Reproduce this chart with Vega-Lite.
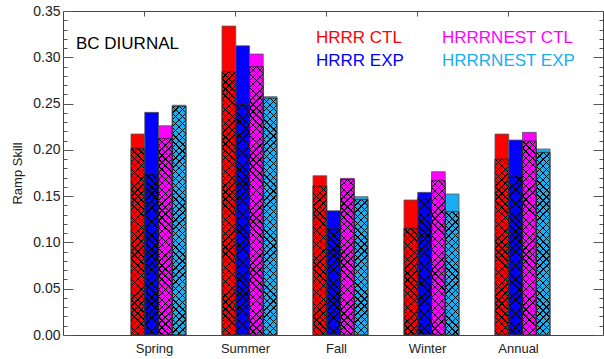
{
"$schema": "https://vega.github.io/schema/vega-lite/v6.json",
"width": 540, "height": 324,
"autosize": {"type": "none"},
"padding": {"left": 63, "top": 11, "right": 1, "bottom": 24},
"background": "white",
"config": {"view": {"stroke": "#444", "strokeWidth": 1}, "font": "Liberation Sans"},
"title": {"text": "BC DIURNAL", "anchor": "start", "frame": "group", "orient": "top", "dx": 13, "offset": -57, "baseline": "middle", "fontSize": 17, "fontWeight": "normal", "color": "#000", "font": "Liberation Sans"},
"data": {"values": [
{"season":"Spring","model":"HRRR CTL","total":0.2171,"hatch":0.2016},
{"season":"Spring","model":"HRRR EXP","total":0.2405,"hatch":0.1746},
{"season":"Spring","model":"HRRRNEST CTL","total":0.226,"hatch":0.2124},
{"season":"Spring","model":"HRRRNEST EXP","total":0.2482,"hatch":0.247},
{"season":"Summer","model":"HRRR CTL","total":0.3337,"hatch":0.2844},
{"season":"Summer","model":"HRRR EXP","total":0.3124,"hatch":0.2491},
{"season":"Summer","model":"HRRRNEST CTL","total":0.3035,"hatch":0.2898},
{"season":"Summer","model":"HRRRNEST EXP","total":0.2574,"hatch":0.2558},
{"season":"Fall","model":"HRRR CTL","total":0.172,"hatch":0.161},
{"season":"Fall","model":"HRRR EXP","total":0.1342,"hatch":0.1152},
{"season":"Fall","model":"HRRRNEST CTL","total":0.1692,"hatch":0.168},
{"season":"Fall","model":"HRRRNEST EXP","total":0.1494,"hatch":0.1465},
{"season":"Winter","model":"HRRR CTL","total":0.1458,"hatch":0.1152},
{"season":"Winter","model":"HRRR EXP","total":0.1541,"hatch":0.1483},
{"season":"Winter","model":"HRRRNEST CTL","total":0.1764,"hatch":0.1667},
{"season":"Winter","model":"HRRRNEST EXP","total":0.1523,"hatch":0.1332},
{"season":"Annual","model":"HRRR CTL","total":0.217,"hatch":0.19},
{"season":"Annual","model":"HRRR EXP","total":0.2106,"hatch":0.1717},
{"season":"Annual","model":"HRRRNEST CTL","total":0.2189,"hatch":0.2095},
{"season":"Annual","model":"HRRRNEST EXP","total":0.2009,"hatch":0.1973}
]},
"layer": [
{
"mark": {"type": "bar"},
"encoding": {
"x": {"field": "season", "type": "nominal", "scale": {"domain": ["Spring","Summer","Fall","Winter","Annual"], "paddingInner": 0.395604, "paddingOuter": 0.664835, "align": 0.562, "round": false},
 "axis": {"orient": "bottom", "ticks": false, "domain": false, "grid": false, "labelPadding": 7, "labelFontSize": 13, "labelColor": "#222", "labelOffset": -4, "labelAngle": 0, "title": null}},
"xOffset": {"field": "model", "type": "nominal", "scale": {"domain": ["HRRR CTL","HRRR EXP","HRRRNEST CTL","HRRRNEST EXP"], "paddingInner": 0, "paddingOuter": 0, "round": false}},
"y": {"field": "total", "type": "quantitative", "scale": {"domain": [0, 0.35], "nice": false, "zero": true},
 "axis": {"orient": "left", "values": [0,0.05,0.1,0.15,0.2,0.25,0.3,0.35], "format": ".2f", "ticks": false, "domain": false, "grid": false, "labelPadding": 3, "labelFontSize": 14, "labelColor": "#222", "title": "Ramp Skill", "titleFontSize": 13, "titleFontWeight": "normal", "titleColor": "#222", "titlePadding": 8}},
"color": {"field": "model", "type": "nominal", "scale": {"domain": ["HRRR CTL","HRRR EXP","HRRRNEST CTL","HRRRNEST EXP"], "range": ["#FF0000","#0000FF","#FF00FF","#1AADEF"]},
 "legend": {"orient": "none", "legendX": 236, "legendY": 18, "columns": 2, "columnPadding": 21, "rowPadding": 5, "symbolSize": 0, "symbolStrokeWidth": 0, "symbolOpacity": 0, "labelOffset": 0, "labelFontSize": 17, "labelFont": "Liberation Sans", "title": null, "encode": {"labels": {"update": {"fill": {"scale": "color", "field": "value"}}}}}}
}
},
{
"mark": {"type": "bar", "clip": true, "y2Offset": 324, "fill": {"gradient": "linear", "x1": 0, "y1": 0, "x2": 0.042438, "y2": 1, "stops": [
{"offset":0.01918,"color":"#0000"},{"offset":0.01918,"color":"#000"},{"offset":0.02318,"color":"#000"},{"offset":0.02318,"color":"#0000"},
{"offset":0.04036,"color":"#0000"},{"offset":0.04036,"color":"#000"},{"offset":0.04436,"color":"#000"},{"offset":0.04436,"color":"#0000"},
{"offset":0.06154,"color":"#0000"},{"offset":0.06154,"color":"#000"},{"offset":0.06554,"color":"#000"},{"offset":0.06554,"color":"#0000"},
{"offset":0.08272,"color":"#0000"},{"offset":0.08272,"color":"#000"},{"offset":0.08672,"color":"#000"},{"offset":0.08672,"color":"#0000"},
{"offset":0.10391,"color":"#0000"},{"offset":0.10391,"color":"#000"},{"offset":0.10791,"color":"#000"},{"offset":0.10791,"color":"#0000"},
{"offset":0.12509,"color":"#0000"},{"offset":0.12509,"color":"#000"},{"offset":0.12909,"color":"#000"},{"offset":0.12909,"color":"#0000"},
{"offset":0.14627,"color":"#0000"},{"offset":0.14627,"color":"#000"},{"offset":0.15027,"color":"#000"},{"offset":0.15027,"color":"#0000"},
{"offset":0.16745,"color":"#0000"},{"offset":0.16745,"color":"#000"},{"offset":0.17145,"color":"#000"},{"offset":0.17145,"color":"#0000"},
{"offset":0.18863,"color":"#0000"},{"offset":0.18863,"color":"#000"},{"offset":0.19263,"color":"#000"},{"offset":0.19263,"color":"#0000"},
{"offset":0.20981,"color":"#0000"},{"offset":0.20981,"color":"#000"},{"offset":0.21381,"color":"#000"},{"offset":0.21381,"color":"#0000"},
{"offset":0.23099,"color":"#0000"},{"offset":0.23099,"color":"#000"},{"offset":0.23499,"color":"#000"},{"offset":0.23499,"color":"#0000"},
{"offset":0.25217,"color":"#0000"},{"offset":0.25217,"color":"#000"},{"offset":0.25617,"color":"#000"},{"offset":0.25617,"color":"#0000"},
{"offset":0.27336,"color":"#0000"},{"offset":0.27336,"color":"#000"},{"offset":0.27736,"color":"#000"},{"offset":0.27736,"color":"#0000"},
{"offset":0.29454,"color":"#0000"},{"offset":0.29454,"color":"#000"},{"offset":0.29854,"color":"#000"},{"offset":0.29854,"color":"#0000"},
{"offset":0.31572,"color":"#0000"},{"offset":0.31572,"color":"#000"},{"offset":0.31972,"color":"#000"},{"offset":0.31972,"color":"#0000"},
{"offset":0.33690,"color":"#0000"},{"offset":0.33690,"color":"#000"},{"offset":0.34090,"color":"#000"},{"offset":0.34090,"color":"#0000"},
{"offset":0.35808,"color":"#0000"},{"offset":0.35808,"color":"#000"},{"offset":0.36208,"color":"#000"},{"offset":0.36208,"color":"#0000"},
{"offset":0.37926,"color":"#0000"},{"offset":0.37926,"color":"#000"},{"offset":0.38326,"color":"#000"},{"offset":0.38326,"color":"#0000"},
{"offset":0.40044,"color":"#0000"},{"offset":0.40044,"color":"#000"},{"offset":0.40444,"color":"#000"},{"offset":0.40444,"color":"#0000"},
{"offset":0.42162,"color":"#0000"},{"offset":0.42162,"color":"#000"},{"offset":0.42562,"color":"#000"},{"offset":0.42562,"color":"#0000"},
{"offset":0.44281,"color":"#0000"},{"offset":0.44281,"color":"#000"},{"offset":0.44681,"color":"#000"},{"offset":0.44681,"color":"#0000"},
{"offset":0.46399,"color":"#0000"},{"offset":0.46399,"color":"#000"},{"offset":0.46799,"color":"#000"},{"offset":0.46799,"color":"#0000"},
{"offset":0.48517,"color":"#0000"},{"offset":0.48517,"color":"#000"},{"offset":0.48917,"color":"#000"},{"offset":0.48917,"color":"#0000"},
{"offset":0.50635,"color":"#0000"},{"offset":0.50635,"color":"#000"},{"offset":0.51035,"color":"#000"},{"offset":0.51035,"color":"#0000"},
{"offset":0.52753,"color":"#0000"},{"offset":0.52753,"color":"#000"},{"offset":0.53153,"color":"#000"},{"offset":0.53153,"color":"#0000"},
{"offset":0.54871,"color":"#0000"},{"offset":0.54871,"color":"#000"},{"offset":0.55271,"color":"#000"},{"offset":0.55271,"color":"#0000"},
{"offset":0.56989,"color":"#0000"},{"offset":0.56989,"color":"#000"},{"offset":0.57389,"color":"#000"},{"offset":0.57389,"color":"#0000"},
{"offset":0.59107,"color":"#0000"},{"offset":0.59107,"color":"#000"},{"offset":0.59507,"color":"#000"},{"offset":0.59507,"color":"#0000"},
{"offset":0.61225,"color":"#0000"},{"offset":0.61225,"color":"#000"},{"offset":0.61625,"color":"#000"},{"offset":0.61625,"color":"#0000"},
{"offset":0.63344,"color":"#0000"},{"offset":0.63344,"color":"#000"},{"offset":0.63744,"color":"#000"},{"offset":0.63744,"color":"#0000"},
{"offset":0.65462,"color":"#0000"},{"offset":0.65462,"color":"#000"},{"offset":0.65862,"color":"#000"},{"offset":0.65862,"color":"#0000"},
{"offset":0.67580,"color":"#0000"},{"offset":0.67580,"color":"#000"},{"offset":0.67980,"color":"#000"},{"offset":0.67980,"color":"#0000"},
{"offset":0.69698,"color":"#0000"},{"offset":0.69698,"color":"#000"},{"offset":0.70098,"color":"#000"},{"offset":0.70098,"color":"#0000"},
{"offset":0.71816,"color":"#0000"},{"offset":0.71816,"color":"#000"},{"offset":0.72216,"color":"#000"},{"offset":0.72216,"color":"#0000"},
{"offset":0.73934,"color":"#0000"},{"offset":0.73934,"color":"#000"},{"offset":0.74334,"color":"#000"},{"offset":0.74334,"color":"#0000"},
{"offset":0.76052,"color":"#0000"},{"offset":0.76052,"color":"#000"},{"offset":0.76452,"color":"#000"},{"offset":0.76452,"color":"#0000"},
{"offset":0.78170,"color":"#0000"},{"offset":0.78170,"color":"#000"},{"offset":0.78570,"color":"#000"},{"offset":0.78570,"color":"#0000"},
{"offset":0.80289,"color":"#0000"},{"offset":0.80289,"color":"#000"},{"offset":0.80689,"color":"#000"},{"offset":0.80689,"color":"#0000"},
{"offset":0.82407,"color":"#0000"},{"offset":0.82407,"color":"#000"},{"offset":0.82807,"color":"#000"},{"offset":0.82807,"color":"#0000"},
{"offset":0.84525,"color":"#0000"},{"offset":0.84525,"color":"#000"},{"offset":0.84925,"color":"#000"},{"offset":0.84925,"color":"#0000"},
{"offset":0.86643,"color":"#0000"},{"offset":0.86643,"color":"#000"},{"offset":0.87043,"color":"#000"},{"offset":0.87043,"color":"#0000"},
{"offset":0.88761,"color":"#0000"},{"offset":0.88761,"color":"#000"},{"offset":0.89161,"color":"#000"},{"offset":0.89161,"color":"#0000"},
{"offset":0.90879,"color":"#0000"},{"offset":0.90879,"color":"#000"},{"offset":0.91279,"color":"#000"},{"offset":0.91279,"color":"#0000"},
{"offset":0.92997,"color":"#0000"},{"offset":0.92997,"color":"#000"},{"offset":0.93397,"color":"#000"},{"offset":0.93397,"color":"#0000"},
{"offset":0.95115,"color":"#0000"},{"offset":0.95115,"color":"#000"},{"offset":0.95515,"color":"#000"},{"offset":0.95515,"color":"#0000"},
{"offset":0.97234,"color":"#0000"},{"offset":0.97234,"color":"#000"},{"offset":0.97634,"color":"#000"},{"offset":0.97634,"color":"#0000"},
{"offset":0.99352,"color":"#0000"},{"offset":0.99352,"color":"#000"},{"offset":0.99752,"color":"#000"},{"offset":0.99752,"color":"#0000"}
]}},
"encoding": {
"x": {"field": "season", "type": "nominal", "axis": {"orient": "top", "labels": false, "domain": false, "grid": false, "ticks": true, "tickSize": -5, "tickOffset": -15, "tickColor": "#555", "title": null}},
"xOffset": {"field": "model", "type": "nominal"},
"y": {"field": "hatch", "type": "quantitative", "axis": {"orient": "left", "values": [0,0.05,0.1,0.15,0.2,0.25,0.3,0.35], "labels": false, "domain": false, "grid": false, "ticks": true, "tickSize": -10, "tickColor": "#555", "title": null}},
"y2": {"field": "hatch"}
}
},
{
"mark": {"type": "bar", "clip": true, "y2Offset": 324, "fill": {"gradient": "linear", "x1": 1, "y1": 0, "x2": 0.957562, "y2": 1, "stops": [
{"offset":0.01918,"color":"#0000"},{"offset":0.01918,"color":"#000"},{"offset":0.02318,"color":"#000"},{"offset":0.02318,"color":"#0000"},
{"offset":0.04036,"color":"#0000"},{"offset":0.04036,"color":"#000"},{"offset":0.04436,"color":"#000"},{"offset":0.04436,"color":"#0000"},
{"offset":0.06154,"color":"#0000"},{"offset":0.06154,"color":"#000"},{"offset":0.06554,"color":"#000"},{"offset":0.06554,"color":"#0000"},
{"offset":0.08272,"color":"#0000"},{"offset":0.08272,"color":"#000"},{"offset":0.08672,"color":"#000"},{"offset":0.08672,"color":"#0000"},
{"offset":0.10391,"color":"#0000"},{"offset":0.10391,"color":"#000"},{"offset":0.10791,"color":"#000"},{"offset":0.10791,"color":"#0000"},
{"offset":0.12509,"color":"#0000"},{"offset":0.12509,"color":"#000"},{"offset":0.12909,"color":"#000"},{"offset":0.12909,"color":"#0000"},
{"offset":0.14627,"color":"#0000"},{"offset":0.14627,"color":"#000"},{"offset":0.15027,"color":"#000"},{"offset":0.15027,"color":"#0000"},
{"offset":0.16745,"color":"#0000"},{"offset":0.16745,"color":"#000"},{"offset":0.17145,"color":"#000"},{"offset":0.17145,"color":"#0000"},
{"offset":0.18863,"color":"#0000"},{"offset":0.18863,"color":"#000"},{"offset":0.19263,"color":"#000"},{"offset":0.19263,"color":"#0000"},
{"offset":0.20981,"color":"#0000"},{"offset":0.20981,"color":"#000"},{"offset":0.21381,"color":"#000"},{"offset":0.21381,"color":"#0000"},
{"offset":0.23099,"color":"#0000"},{"offset":0.23099,"color":"#000"},{"offset":0.23499,"color":"#000"},{"offset":0.23499,"color":"#0000"},
{"offset":0.25217,"color":"#0000"},{"offset":0.25217,"color":"#000"},{"offset":0.25617,"color":"#000"},{"offset":0.25617,"color":"#0000"},
{"offset":0.27336,"color":"#0000"},{"offset":0.27336,"color":"#000"},{"offset":0.27736,"color":"#000"},{"offset":0.27736,"color":"#0000"},
{"offset":0.29454,"color":"#0000"},{"offset":0.29454,"color":"#000"},{"offset":0.29854,"color":"#000"},{"offset":0.29854,"color":"#0000"},
{"offset":0.31572,"color":"#0000"},{"offset":0.31572,"color":"#000"},{"offset":0.31972,"color":"#000"},{"offset":0.31972,"color":"#0000"},
{"offset":0.33690,"color":"#0000"},{"offset":0.33690,"color":"#000"},{"offset":0.34090,"color":"#000"},{"offset":0.34090,"color":"#0000"},
{"offset":0.35808,"color":"#0000"},{"offset":0.35808,"color":"#000"},{"offset":0.36208,"color":"#000"},{"offset":0.36208,"color":"#0000"},
{"offset":0.37926,"color":"#0000"},{"offset":0.37926,"color":"#000"},{"offset":0.38326,"color":"#000"},{"offset":0.38326,"color":"#0000"},
{"offset":0.40044,"color":"#0000"},{"offset":0.40044,"color":"#000"},{"offset":0.40444,"color":"#000"},{"offset":0.40444,"color":"#0000"},
{"offset":0.42162,"color":"#0000"},{"offset":0.42162,"color":"#000"},{"offset":0.42562,"color":"#000"},{"offset":0.42562,"color":"#0000"},
{"offset":0.44281,"color":"#0000"},{"offset":0.44281,"color":"#000"},{"offset":0.44681,"color":"#000"},{"offset":0.44681,"color":"#0000"},
{"offset":0.46399,"color":"#0000"},{"offset":0.46399,"color":"#000"},{"offset":0.46799,"color":"#000"},{"offset":0.46799,"color":"#0000"},
{"offset":0.48517,"color":"#0000"},{"offset":0.48517,"color":"#000"},{"offset":0.48917,"color":"#000"},{"offset":0.48917,"color":"#0000"},
{"offset":0.50635,"color":"#0000"},{"offset":0.50635,"color":"#000"},{"offset":0.51035,"color":"#000"},{"offset":0.51035,"color":"#0000"},
{"offset":0.52753,"color":"#0000"},{"offset":0.52753,"color":"#000"},{"offset":0.53153,"color":"#000"},{"offset":0.53153,"color":"#0000"},
{"offset":0.54871,"color":"#0000"},{"offset":0.54871,"color":"#000"},{"offset":0.55271,"color":"#000"},{"offset":0.55271,"color":"#0000"},
{"offset":0.56989,"color":"#0000"},{"offset":0.56989,"color":"#000"},{"offset":0.57389,"color":"#000"},{"offset":0.57389,"color":"#0000"},
{"offset":0.59107,"color":"#0000"},{"offset":0.59107,"color":"#000"},{"offset":0.59507,"color":"#000"},{"offset":0.59507,"color":"#0000"},
{"offset":0.61225,"color":"#0000"},{"offset":0.61225,"color":"#000"},{"offset":0.61625,"color":"#000"},{"offset":0.61625,"color":"#0000"},
{"offset":0.63344,"color":"#0000"},{"offset":0.63344,"color":"#000"},{"offset":0.63744,"color":"#000"},{"offset":0.63744,"color":"#0000"},
{"offset":0.65462,"color":"#0000"},{"offset":0.65462,"color":"#000"},{"offset":0.65862,"color":"#000"},{"offset":0.65862,"color":"#0000"},
{"offset":0.67580,"color":"#0000"},{"offset":0.67580,"color":"#000"},{"offset":0.67980,"color":"#000"},{"offset":0.67980,"color":"#0000"},
{"offset":0.69698,"color":"#0000"},{"offset":0.69698,"color":"#000"},{"offset":0.70098,"color":"#000"},{"offset":0.70098,"color":"#0000"},
{"offset":0.71816,"color":"#0000"},{"offset":0.71816,"color":"#000"},{"offset":0.72216,"color":"#000"},{"offset":0.72216,"color":"#0000"},
{"offset":0.73934,"color":"#0000"},{"offset":0.73934,"color":"#000"},{"offset":0.74334,"color":"#000"},{"offset":0.74334,"color":"#0000"},
{"offset":0.76052,"color":"#0000"},{"offset":0.76052,"color":"#000"},{"offset":0.76452,"color":"#000"},{"offset":0.76452,"color":"#0000"},
{"offset":0.78170,"color":"#0000"},{"offset":0.78170,"color":"#000"},{"offset":0.78570,"color":"#000"},{"offset":0.78570,"color":"#0000"},
{"offset":0.80289,"color":"#0000"},{"offset":0.80289,"color":"#000"},{"offset":0.80689,"color":"#000"},{"offset":0.80689,"color":"#0000"},
{"offset":0.82407,"color":"#0000"},{"offset":0.82407,"color":"#000"},{"offset":0.82807,"color":"#000"},{"offset":0.82807,"color":"#0000"},
{"offset":0.84525,"color":"#0000"},{"offset":0.84525,"color":"#000"},{"offset":0.84925,"color":"#000"},{"offset":0.84925,"color":"#0000"},
{"offset":0.86643,"color":"#0000"},{"offset":0.86643,"color":"#000"},{"offset":0.87043,"color":"#000"},{"offset":0.87043,"color":"#0000"},
{"offset":0.88761,"color":"#0000"},{"offset":0.88761,"color":"#000"},{"offset":0.89161,"color":"#000"},{"offset":0.89161,"color":"#0000"},
{"offset":0.90879,"color":"#0000"},{"offset":0.90879,"color":"#000"},{"offset":0.91279,"color":"#000"},{"offset":0.91279,"color":"#0000"},
{"offset":0.92997,"color":"#0000"},{"offset":0.92997,"color":"#000"},{"offset":0.93397,"color":"#000"},{"offset":0.93397,"color":"#0000"},
{"offset":0.95115,"color":"#0000"},{"offset":0.95115,"color":"#000"},{"offset":0.95515,"color":"#000"},{"offset":0.95515,"color":"#0000"},
{"offset":0.97234,"color":"#0000"},{"offset":0.97234,"color":"#000"},{"offset":0.97634,"color":"#000"},{"offset":0.97634,"color":"#0000"},
{"offset":0.99352,"color":"#0000"},{"offset":0.99352,"color":"#000"},{"offset":0.99752,"color":"#000"},{"offset":0.99752,"color":"#0000"}
]}},
"encoding": {
"x": {"field": "season", "type": "nominal", "axis": null},
"xOffset": {"field": "model", "type": "nominal"},
"y": {"field": "hatch", "type": "quantitative", "axis": {"orient": "left", "values": [0.01,0.02,0.03,0.04,0.06,0.07,0.08,0.09,0.11,0.12,0.13,0.14,0.16,0.17,0.18,0.19,0.21,0.22,0.23,0.24,0.26,0.27,0.28,0.29,0.31,0.32,0.33,0.34], "labels": false, "domain": false, "grid": false, "ticks": true, "tickSize": -4, "tickColor": "#555", "title": null}},
"y2": {"field": "hatch"}
}
},
{
"mark": {"type": "bar", "fillOpacity": 0, "stroke": "#555", "strokeWidth": 0.8},
"encoding": {
"x": {"field": "season", "type": "nominal", "axis": null},
"xOffset": {"field": "model", "type": "nominal"},
"y": {"field": "total", "type": "quantitative", "axis": {"orient": "right", "values": [0,0.05,0.1,0.15,0.2,0.25,0.3,0.35], "labels": false, "domain": false, "grid": false, "ticks": true, "tickSize": -10, "tickColor": "#555", "title": null}}
}
},
{
"mark": {"type": "bar", "fillOpacity": 0, "stroke": "#222", "strokeWidth": 0.8},
"encoding": {
"x": {"field": "season", "type": "nominal", "axis": null},
"xOffset": {"field": "model", "type": "nominal"},
"y": {"field": "hatch", "type": "quantitative", "axis": {"orient": "right", "values": [0.01,0.02,0.03,0.04,0.06,0.07,0.08,0.09,0.11,0.12,0.13,0.14,0.16,0.17,0.18,0.19,0.21,0.22,0.23,0.24,0.26,0.27,0.28,0.29,0.31,0.32,0.33,0.34], "labels": false, "domain": false, "grid": false, "ticks": true, "tickSize": -4, "tickColor": "#555", "title": null}}
}
}
],
"resolve": {"axis": {"x": "independent", "y": "independent"}}
}
